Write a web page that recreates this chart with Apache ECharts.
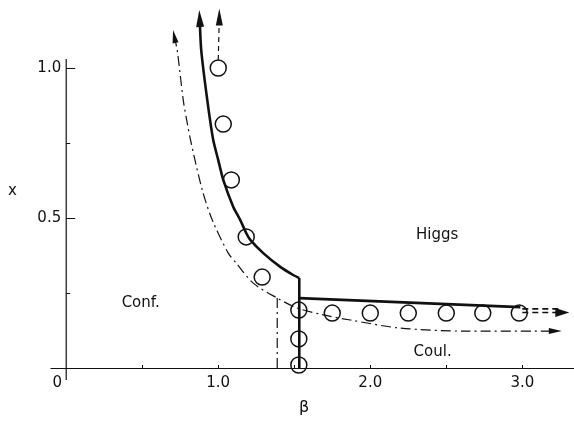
<!DOCTYPE html>
<html>
<head>
<meta charset="utf-8">
<script src="https://cdn.jsdelivr.net/npm/echarts@6/dist/echarts.min.js"></script>
<style>html,body{margin:0;padding:0;background:#fff}#c{width:574px;height:427px}</style>
</head>
<body>
<div id="c"></div>
<script>
// ---- data (β, x) ----
const xLabelValues = [0, 1, 2, 3];
const xTickValues = [0.5, 1, 1.5, 2, 2.5, 3];
const yLabelValues = [0.5, 1.0];
const yMajorTicks = [0.5, 1.0];
const yMinorTicks = [0.25, 0.75];
const yAxisSpan = [[0, -0.04], [0, 1.03]];
// thick solid transition line (from corner up to arrow)
const thickCurve = [[1.533,0.300],[1.493,0.310],[1.408,0.337],[1.296,0.383],[1.211,0.427],[1.184,0.450],[1.145,0.493],[1.099,0.537],[1.033,0.627],[1.000,0.693],[0.967,0.760],[0.928,0.893],[0.888,1.060],[0.878,1.165]];
const thickVertical = [[1.533,0.300],[1.533,0.0]];
const thickHorizontal = [[1.533,0.233],[2.987,0.203]];
// dash-dot line
const dashDotCurve = [[0.711,1.105],[0.730,1.060],[0.770,0.893],[0.796,0.817],[0.822,0.750],[0.895,0.593],[0.961,0.493],[1.066,0.383],[1.118,0.350],[1.230,0.283],[1.388,0.233],[1.520,0.200],[1.691,0.177],[1.868,0.160],[2.197,0.133],[2.638,0.123],[3.217,0.123]];
const dashDotVertical = [[1.388,0.233],[1.388,0.0]];
// dashed extensions
const dashedUp = [[1.0,1.027],[1.007,1.170]];
const dashedRightA = [[3.0,0.197],[3.263,0.197]];
const dashedRightB = [[3.0,0.185],[3.263,0.185]];
// Monte-Carlo points (open circles)
const mcPoints = [[1.0,1.0],[1.033,0.813],[1.086,0.627],[1.184,0.437],[1.289,0.303],[1.53,0.193],[1.53,0.097],[1.53,0.01],[1.75,0.183],[2.0,0.183],[2.25,0.183],[2.5,0.183],[2.74,0.183],[2.98,0.183]];
// region labels
const regionNames = ['Higgs', 'Conf.', 'Coul.'];
const regionPos = [[2.44,0.443],[0.49,0.215],[2.41,0.053]];

const black = '#111';
function arrowEnd(points, rot, size, first) {
  return points.map((p, i) => {
    const isLast = i === points.length - 1, isFirst = first && i === 0;
    if (!isLast && !isFirst) return {value: p, symbol: 'none'};
    const r = isFirst ? first.rot : rot, s = isFirst ? first.size : size;
    return {value: p, symbol: 'triangle', symbolSize: s, symbolRotate: r, itemStyle: {color: black, borderWidth: 0, opacity: 1}};
  });
}
function lineSeries(data, width, type, extra) {
  return Object.assign({
    type: 'line', data: data, symbol: 'none', showSymbol: true, animation: false,
    lineStyle: {color: black, width: width, type: type}, itemStyle: {color: black, opacity: 1}, z: 3,
    silent: true
  }, extra || {});
}
const fmtX = v => (Math.abs(v) < 1e-6) ? '{z|0}' : v.toFixed(1);
const fmtY = v => v.toFixed(1);

const chart = echarts.init(document.getElementById('c'), null, {renderer: 'canvas'});
chart.setOption({
  animation: false,
  grid: {left: 51, right: 0, top: 8, bottom: 47},
  xAxis: {
    type: 'value', min: -0.1, max: 3.34, offset: -12,
    axisLine: {show: true, onZero: false, lineStyle: {color: black, width: 1.2}},
    axisTick: {show: true, inside: true, length: 3, customValues: xTickValues, lineStyle: {color: black}},
    splitLine: {show: false},
    axisLabel: {margin: 8, color: black, fontFamily: 'DejaVu Sans', fontSize: 15, customValues: xLabelValues, formatter: fmtX,
      rich: {z: {color: black, fontFamily: 'DejaVu Sans', fontSize: 15, padding: [0, 18, 0, 0]}}}
  },
  yAxis: [{
    type: 'value', min: -0.04, max: 1.2, offset: -15.2,
    axisLine: {show: false, onZero: false},
    axisTick: {show: true, inside: true, length: 9, customValues: yMajorTicks, lineStyle: {color: black}},
    splitLine: {show: false},
    axisLabel: {margin: 5, color: black, fontFamily: 'DejaVu Sans', fontSize: 15, customValues: yLabelValues, formatter: fmtY}
  }, {
    type: 'value', min: -0.04, max: 1.2, position: 'left', offset: -15.2,
    axisLine: {show: false, onZero: false},
    axisTick: {show: true, inside: true, length: 4, customValues: yMinorTicks, lineStyle: {color: black}},
    splitLine: {show: false},
    axisLabel: {show: false}
  }],
  graphic: [
    {type: 'text', left: 8, top: 184, style: {text: 'x', font: '15px "DejaVu Sans"', fill: black}},
    {type: 'text', left: 299, top: 400, style: {text: 'β', font: '16px "DejaVu Sans"', fill: black}}
  ],
  series: [
    lineSeries(yAxisSpan, 1.2, 'solid'),
    {
      type: 'scatter', data: mcPoints, symbol: 'circle', symbolSize: 16, z: 2, silent: true,
      itemStyle: {color: 'rgba(0,0,0,0)', borderColor: black, borderWidth: 1.5, opacity: 1}
    },
    lineSeries(arrowEnd(thickCurve, 3, [8, 17]), 2.6, 'solid', {smooth: 0.2}),
    lineSeries(thickVertical, 2.6, 'solid'),
    lineSeries(thickHorizontal, 2.6, 'solid'),
    lineSeries(arrowEnd(dashDotCurve, -90, [6, 13], {rot: 11, size: [6, 13]}), 1.2, [10, 4, 2, 4], {smooth: 0.3}),
    lineSeries(dashDotVertical, 1.2, [10, 4, 2, 4]),
    lineSeries(arrowEnd(dashedUp, 0, [7, 17]), 1.2, [5, 4]),
    lineSeries(dashedRightA, 1.6, [6, 4]),
    lineSeries(arrowEnd(dashedRightB, -90, [9, 14]), 1.6, [6, 4]),
    {
      type: 'scatter', symbolSize: 1, silent: true, z: 4,
      itemStyle: {opacity: 0},
      data: regionNames.map((n, i) => ({name: n, value: regionPos[i]})),
      label: {show: true, position: 'inside', formatter: p => p.name, color: black, opacity: 1, fontFamily: 'DejaVu Sans', fontSize: 15}
    }
  ]
});
</script>
</body>
</html>
